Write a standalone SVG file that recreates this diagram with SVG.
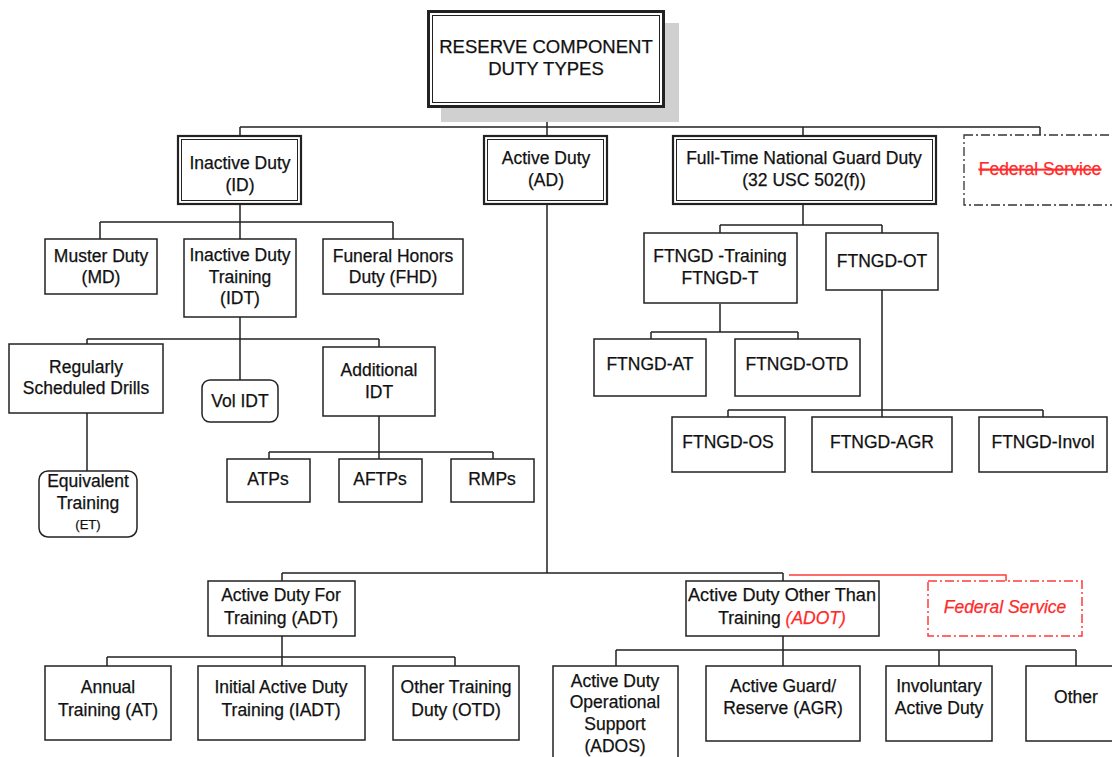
<svg xmlns="http://www.w3.org/2000/svg" width="1112" height="757" viewBox="0 0 1112 757">
<style>
  .bx { fill: #fff; stroke: #222; stroke-width: 1.5; }
  .dbo { fill: #fff; stroke: #222; stroke-width: 2.2; }
  .dbi { fill: none; stroke: #222; stroke-width: 1; }
  .t { font-family: "Liberation Sans", Arial, sans-serif; font-size: 17.5px; fill: #111; stroke: #111; stroke-width: 0.25; text-anchor: middle; }
  .sm { font-size: 13px; }
  .ln { fill: none; stroke: #222; stroke-width: 1.5; }
  .red { fill: none; stroke: #ff3b3b; stroke-width: 1.5; }
  .fedbox { fill: #fff; stroke: #ff3b3b; stroke-width: 1.5; stroke-dasharray: 9 3 2 3; }
  .fedbox0 { fill: #fff; stroke: #333; stroke-width: 1.3; stroke-dasharray: 9 3 2 3; }
  .redt { fill: #ff2a2a; stroke: #ff2a2a; font-style: italic; }
</style>
<rect width="1112" height="757" fill="#fff"/>

<g id="connectors">
  <path class="ln" d="M547 107 V135 M240 127 H1040 M240 127 V135 M803 127 V135 M1040 127 V135"/>
  <path class="ln" d="M240 205 V239 M100 222 H393 M100 222 V239 M393 222 V239"/>
  <path class="ln" d="M240 317 V380 M87 339 H379 M87 339 V344 M379 339 V347"/>
  <path class="ln" d="M87 413 V471"/>
  <path class="ln" d="M379 416 V452 M269 452 H493 M269 452 V459 M493 452 V459 M379 452 V459"/>
  <path class="ln" d="M803 205 V225 M720 225 H882 M720 225 V233 M882 225 V233"/>
  <path class="ln" d="M720 304 V332 M651 332 H798 M651 332 V339 M798 332 V339"/>
  <path class="ln" d="M882 290 V410 M728 410 H1043 M728 410 V417 M1043 410 V417 M882 410 V417"/>
  <path class="ln" d="M547 205 V573 M282 573 H783 M282 573 V581 M783 573 V581"/>
  <path class="red" d="M789 575 H1006 V581"/>
  <path class="ln" d="M282 636 V657 M107 657 H455 M107 657 V666 M455 657 V666 M282 657 V666"/>
  <path class="ln" d="M783 636 V650 M616 650 H1076 M616 650 V666 M1076 650 V666 M939 650 V666 M783 650 V666"/>
</g>

<g id="root">
  <rect x="441" y="23" width="238" height="99" fill="#d0d0d0"/>
  <rect x="428.5" y="11.5" width="235" height="95" fill="#fff" stroke="#222" stroke-width="3"/>
  <rect x="432.5" y="15.5" width="227" height="87" class="dbi"/>
  <text class="t" x="546" y="53" style="font-size:18.5px">RESERVE COMPONENT</text>
  <text class="t" x="546" y="75" style="font-size:18.5px">DUTY TYPES</text>
</g>

<g id="id">
  <rect class="dbo" x="178" y="136" width="123" height="68"/>
  <rect class="dbi" x="181.5" y="139.5" width="116" height="61"/>
  <text class="t" x="240" y="169">Inactive Duty</text>
  <text class="t" x="240" y="191">(ID)</text>
</g>
<g id="ad">
  <rect class="dbo" x="484" y="136" width="123" height="68"/>
  <rect class="dbi" x="487.5" y="139.5" width="116" height="61"/>
  <text class="t" x="546" y="164">Active Duty</text>
  <text class="t" x="546" y="186">(AD)</text>
</g>
<g id="ftngd">
  <rect class="dbo" x="673" y="136" width="263" height="68"/>
  <rect class="dbi" x="676.5" y="139.5" width="256" height="61"/>
  <text class="t" x="804" y="164">Full-Time National Guard Duty</text>
  <text class="t" x="804" y="186">(32 USC 502(f))</text>
</g>
<g id="fed1">
  <rect class="fedbox0" x="964" y="135" width="170" height="70"/>
  <text class="t redt" x="1040" y="175" style="font-style:normal" text-decoration="line-through">Federal Service</text>
</g>

<g id="md">
  <rect class="bx" x="45" y="239" width="112" height="55"/>
  <text class="t" x="101" y="262">Muster Duty</text>
  <text class="t" x="101" y="283">(MD)</text>
</g>
<g id="idt">
  <rect class="bx" x="184" y="239" width="112" height="78"/>
  <text class="t" x="240" y="261">Inactive Duty</text>
  <text class="t" x="240" y="283">Training</text>
  <text class="t" x="240" y="304">(IDT)</text>
</g>
<g id="fhd">
  <rect class="bx" x="323" y="239" width="140" height="55"/>
  <text class="t" x="393" y="262">Funeral Honors</text>
  <text class="t" x="393" y="283">Duty (FHD)</text>
</g>

<g id="rsd">
  <rect class="bx" x="9" y="344" width="154" height="69"/>
  <text class="t" x="86" y="373">Regularly</text>
  <text class="t" x="86" y="394">Scheduled Drills</text>
</g>
<g id="volidt">
  <rect class="bx" x="202" y="380" width="76" height="42" rx="8"/>
  <text class="t" x="240" y="407">Vol IDT</text>
</g>
<g id="addidt">
  <rect class="bx" x="323" y="347" width="112" height="69"/>
  <text class="t" x="379" y="376">Additional</text>
  <text class="t" x="379" y="398">IDT</text>
</g>
<g id="et">
  <rect class="bx" x="39" y="471" width="98" height="66" rx="9"/>
  <text class="t" x="88" y="487">Equivalent</text>
  <text class="t" x="88" y="509">Training</text>
  <text class="t sm" x="88" y="529">(ET)</text>
</g>
<g id="atps">
  <rect class="bx" x="227" y="459" width="83" height="43"/>
  <text class="t" x="268" y="485">ATPs</text>
</g>
<g id="aftps">
  <rect class="bx" x="339" y="459" width="83" height="43"/>
  <text class="t" x="380" y="485">AFTPs</text>
</g>
<g id="rmps">
  <rect class="bx" x="451" y="459" width="83" height="43"/>
  <text class="t" x="492" y="485">RMPs</text>
</g>

<g id="ftngdt">
  <rect class="bx" x="644" y="233" width="153" height="70"/>
  <text class="t" x="720" y="262">FTNGD -Training</text>
  <text class="t" x="720" y="284">FTNGD-T</text>
</g>
<g id="ftngdot">
  <rect class="bx" x="826" y="233" width="112" height="57"/>
  <text class="t" x="882" y="267">FTNGD-OT</text>
</g>
<g id="ftngdat">
  <rect class="bx" x="594" y="339" width="112" height="57"/>
  <text class="t" x="650" y="370">FTNGD-AT</text>
</g>
<g id="ftngdotd">
  <rect class="bx" x="735" y="339" width="125" height="57"/>
  <text class="t" x="797" y="370">FTNGD-OTD</text>
</g>
<g id="ftngdos">
  <rect class="bx" x="672" y="417" width="113" height="55"/>
  <text class="t" x="728" y="448">FTNGD-OS</text>
</g>
<g id="ftngdagr">
  <rect class="bx" x="812" y="417" width="140" height="55"/>
  <text class="t" x="882" y="448">FTNGD-AGR</text>
</g>
<g id="ftngdinvol">
  <rect class="bx" x="979" y="417" width="128" height="55"/>
  <text class="t" x="1043" y="448">FTNGD-Invol</text>
</g>

<g id="adt">
  <rect class="bx" x="208" y="581" width="147" height="55"/>
  <text class="t" x="281" y="601">Active Duty For</text>
  <text class="t" x="281" y="624">Training (ADT)</text>
</g>
<g id="adot">
  <rect class="bx" x="686" y="581" width="193" height="55"/>
  <text class="t" x="782" y="601" textLength="188" lengthAdjust="spacingAndGlyphs">Active Duty Other Than</text>
  <text class="t" x="782" y="624">Training <tspan class="redt">(ADOT)</tspan></text>
</g>
<g id="fed2">
  <rect class="fedbox" x="928" y="581" width="154" height="55"/>
  <text class="t redt" x="1005" y="613">Federal Service</text>
</g>

<g id="at">
  <rect class="bx" x="45" y="666" width="126" height="74"/>
  <text class="t" x="108" y="693">Annual</text>
  <text class="t" x="108" y="716">Training (AT)</text>
</g>
<g id="iadt">
  <rect class="bx" x="198" y="666" width="167" height="74"/>
  <text class="t" x="281" y="693">Initial Active Duty</text>
  <text class="t" x="281" y="716">Training (IADT)</text>
</g>
<g id="otd">
  <rect class="bx" x="393" y="666" width="126" height="74"/>
  <text class="t" x="456" y="693">Other Training</text>
  <text class="t" x="456" y="716">Duty (OTD)</text>
</g>
<g id="ados">
  <rect class="bx" x="553" y="666" width="125" height="100"/>
  <text class="t" x="615" y="687">Active Duty</text>
  <text class="t" x="615" y="708">Operational</text>
  <text class="t" x="615" y="730">Support</text>
  <text class="t" x="615" y="752">(ADOS)</text>
</g>
<g id="agr">
  <rect class="bx" x="706" y="666" width="154" height="75"/>
  <text class="t" x="783" y="692">Active Guard/</text>
  <text class="t" x="783" y="714">Reserve (AGR)</text>
</g>
<g id="invol">
  <rect class="bx" x="886" y="666" width="106" height="75"/>
  <text class="t" x="939" y="692">Involuntary</text>
  <text class="t" x="939" y="714">Active Duty</text>
</g>
<g id="other">
  <rect class="bx" x="1026" y="666" width="100" height="75"/>
  <text class="t" x="1076" y="703">Other</text>
</g>
</svg>
